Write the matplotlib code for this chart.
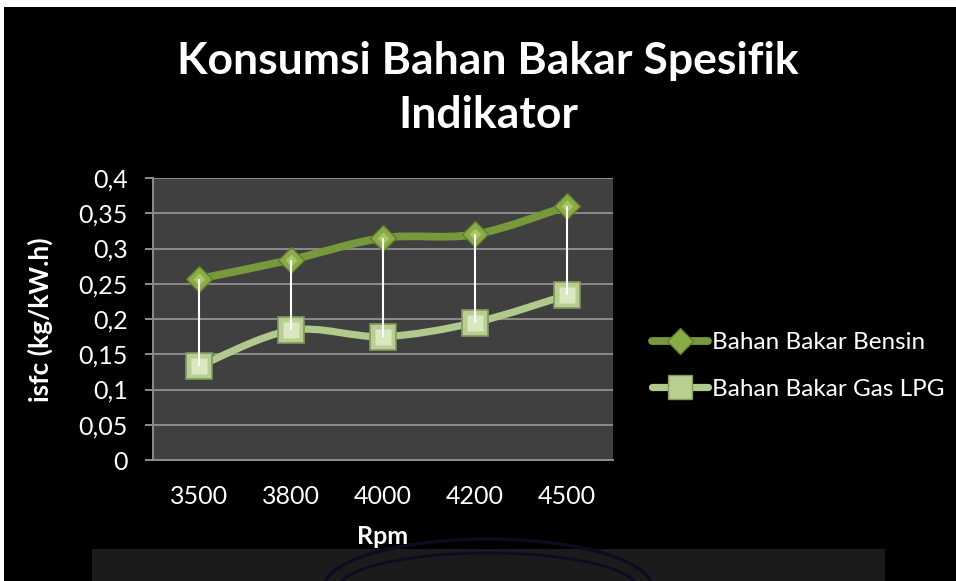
import numpy as np
import matplotlib.pyplot as plt
from matplotlib.path import Path
from matplotlib.patches import PathPatch, Rectangle, Ellipse
from matplotlib.lines import Line2D

plt.rcParams['font.family'] = ['Lato', 'DejaVu Sans']

# data
rpm = ['3500', '3800', '4000', '4200', '4500']
bensin = [0.257, 0.284, 0.315, 0.320, 0.360]
lpg = [0.133, 0.184, 0.175, 0.195, 0.234]
yticks = [0, 0.05, 0.1, 0.15, 0.2, 0.25, 0.3, 0.35, 0.4]
ytick_labels = ['0', '0,05', '0,1', '0,15', '0,2', '0,25', '0,3', '0,35', '0,4']
series_names = ['Bahan Bakar Bensin', 'Bahan Bakar Gas LPG']

c_bensin = '#77993b'
c_lpg = '#b1c98c'


def smooth_path(xs, ys):
    # Catmull-Rom style smoothing drawn as cubic bezier (like Excel smoothed lines)
    pts = np.column_stack([xs, ys]).astype(float)
    ext = np.vstack([pts[0], pts, pts[-1]])
    verts = [pts[0]]
    codes = [Path.MOVETO]
    for i in range(len(pts) - 1):
        p0, p1, p2, p3 = ext[i], ext[i + 1], ext[i + 2], ext[i + 3]
        verts += [p1 + (p2 - p0) / 6, p2 - (p3 - p1) / 6, p2]
        codes += [Path.CURVE4] * 3
    return Path(verts, codes)


fig = plt.figure(figsize=(9.56, 5.81), dpi=100, facecolor='white')

# black slide background with white margin top/left
fig.patches.append(Rectangle((4 / 956, 0), 1, 1 - 7 / 581, transform=fig.transFigure,
                             facecolor='black', edgecolor='none', zorder=-10))
# dark panel at the bottom with faint navy logo arcs
fig.patches.append(Rectangle((92 / 956, 0), (885 - 92) / 956, 32 / 581, transform=fig.transFigure,
                             facecolor='#1b1b1b', edgecolor='none', zorder=-9))
for w, h, lw in [(330, 50, 2.5), (300, 36, 2.0)]:
    e = Ellipse((488 / 956, -8 / 581), w / 956, h * 2 / 581, transform=fig.transFigure,
                facecolor='none', edgecolor='#0c0c20', lw=lw, zorder=-8)
    fig.patches.append(e)

ax = fig.add_axes([153 / 956, 121 / 581, 460 / 956, 282 / 581])
ax.set_facecolor('#404040')
x = np.arange(len(rpm))

ax.add_patch(PathPatch(smooth_path(x, bensin), facecolor='none', edgecolor=c_bensin,
                       lw=5.6, capstyle='round', zorder=3))
ax.add_patch(PathPatch(smooth_path(x, lpg), facecolor='none', edgecolor=c_lpg,
                       lw=5.2, capstyle='round', zorder=3))

ax.plot(x, bensin, linestyle='none', marker='D', ms=13.5, mfc='#8aac46', mec='#5d7d2b',
        mew=1.0, zorder=4)
ax.plot(x, bensin, linestyle='none', marker='D', ms=6, mfc='#a9c665', mec='none', zorder=4)
ax.plot(x, lpg, linestyle='none', marker='s', ms=18.5, mfc='#b9cf92', mec='#7f9a5c',
        mew=1.2, zorder=4)
ax.plot(x, lpg, linestyle='none', marker='s', ms=11, mfc='#d9e8bf', mec='none', zorder=4)

# high-low lines
ax.vlines(x, lpg, bensin, colors='white', lw=1.5, zorder=5)

ax.set_xlim(-0.5, len(rpm) - 0.5)
ax.set_ylim(0, 0.4)
ax.set_xticks(x)
ax.set_xticklabels(rpm)
ax.set_yticks(yticks)
ax.set_yticklabels(ytick_labels)
ax.grid(axis='y', color='#8c8c8c', lw=1.4)
ax.set_axisbelow(True)
for s in ['top', 'right']:
    ax.spines[s].set_visible(False)
for s in ['left', 'bottom']:
    ax.spines[s].set_color('#8c8c8c')
    ax.spines[s].set_linewidth(1.4)
ax.tick_params(axis='y', colors='#8c8c8c', labelcolor='white', length=6, width=1.4,
               pad=12, labelsize=18)
ax.tick_params(axis='x', length=0, pad=18, labelcolor='white', labelsize=18)

ax.set_xlabel('Rpm', color='white', fontsize=18, fontweight='bold', labelpad=12)
fig.text(40 / 956, 1 - 320 / 581, 'isfc (kg/kW.h)', rotation=90, color='white',
         fontsize=19, fontweight='bold', ha='center', va='center')

fig.text(488 / 956, 1 - 88 / 581, 'Konsumsi Bahan Bakar Spesifik\nIndikator', color='white',
         fontsize=32, fontweight='bold', ha='center', va='center', linespacing=1.45)

handles = [
    Line2D([], [], color=c_bensin, lw=5.6, solid_capstyle='round', marker='D', ms=13,
           mfc='#8aac46', mec='#5d7d2b'),
    Line2D([], [], color=c_lpg, lw=5.2, solid_capstyle='round', marker='s', ms=17,
           mfc='#b9cf92', mec='#7f9a5c'),
]
leg = fig.legend(handles, series_names, loc='center left', bbox_to_anchor=(652 / 956, 1 - 366 / 581),
                 frameon=False, fontsize=17.5, labelcolor='white', handlelength=2.3,
                 handletextpad=0.15, labelspacing=1.05, borderpad=0, borderaxespad=0)

fig.savefig('out.png', dpi=100, facecolor=fig.get_facecolor())
